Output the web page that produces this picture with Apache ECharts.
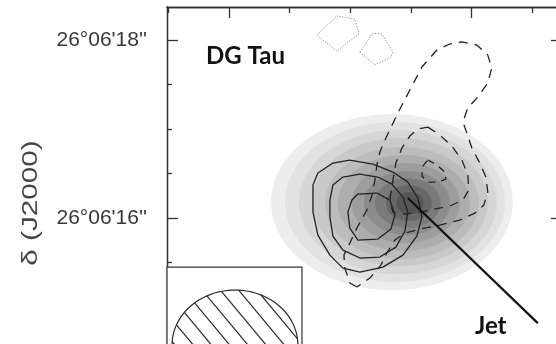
<!DOCTYPE html>
<html><head><meta charset="utf-8">
<script src="https://cdn.jsdelivr.net/npm/echarts@6/dist/echarts.min.js"></script>
<style>html,body{margin:0;padding:0;background:#fff}#c{width:556px;height:344px}</style>
</head><body><div id="c"></div>
<script>
// ---- axes (x: RA offset in arcsec, y: Dec seconds of 26°06') ----
const xRange = [-2.037, 2.35];
const yRange = [13.9, 18.371];
const xTicksMajor = [-1.347, 1.347];
const xTicksMinor = [-2.02, -0.674, 0, 0.674, 2.02];
const yTicksMajor = [14, 16, 18];
const yTicksMinor = [14.5, 15, 15.5, 16.5, 17, 17.5];
const yLabelValues = [16, 18];

// ---- grey-scale filled levels (centre, semi-axes in arcsec) ----
const grayCx = [0.461,0.494,0.527,0.549,0.572,0.594,0.616,0.627,0.638,0.649,0.660];
const grayCy = [16.180,16.180,16.180,16.180,16.169,16.169,16.169,16.169,16.169,16.169,16.169];
const grayRx = [1.343,1.221,1.099,0.977,0.855,0.733,0.599,0.477,0.366,0.255,0.150];
const grayRy = [0.989,0.899,0.809,0.719,0.629,0.539,0.449,0.360,0.280,0.200,0.125];
const grayTone = ['#ededed','#e2e2e2','#d6d6d6','#c9c9c9','#bcbcbc','#adadad','#9d9d9d','#8c8c8c','#7a7a7a','#676767','#555555'];

// ---- solid contours ----
const solidOuter = [[-0.416,16.371],[-0.361,16.506],[-0.194,16.618],[-0.006,16.652],[0.250,16.607],[0.472,16.517],[0.638,16.404],[0.749,16.225],[0.794,16.011],[0.738,15.798],[0.583,15.584],[0.361,15.449],[0.105,15.393],[-0.083,15.438],[-0.228,15.584],[-0.361,15.809],[-0.416,16.067],[-0.416,16.371]];
const solidMiddle = [[-0.228,16.202],[-0.194,16.371],[-0.083,16.461],[0.105,16.494],[0.305,16.461],[0.461,16.382],[0.583,16.236],[0.638,16.067],[0.605,15.854],[0.505,15.674],[0.327,15.562],[0.105,15.551],[-0.083,15.640],[-0.194,15.798],[-0.228,16.011],[-0.228,16.202]];
const solidInner = [[-0.028,16.067],[0.017,16.202],[0.083,16.270],[0.294,16.281],[0.438,16.202],[0.494,16.034],[0.450,15.876],[0.305,15.764],[0.083,15.753],[-0.006,15.888],[-0.028,16.067]];

// ---- dashed contours ----
const dashedOuter = [[0.072,15.225],[-0.006,15.270],[-0.061,15.438],[-0.072,15.584],[-0.006,15.719],[0.072,15.888],[0.183,16.090],[0.239,16.258],[0.272,16.427],[0.294,16.596],[0.327,16.742],[0.394,16.899],[0.527,17.180],[0.660,17.438],[0.794,17.697],[0.960,17.888],[1.104,17.955],[1.238,17.978],[1.404,17.944],[1.526,17.831],[1.570,17.685],[1.526,17.517],[1.415,17.360],[1.304,17.236],[1.249,17.079],[1.293,16.955],[1.349,16.787],[1.437,16.618],[1.504,16.461],[1.526,16.292],[1.482,16.146],[1.382,16.056],[1.215,15.978],[0.993,15.921],[0.771,15.876],[0.605,15.831],[0.494,15.753],[0.405,15.607],[0.339,15.472],[0.216,15.326],[0.072,15.225]];
const dashedMiddle = [[0.860,17.022],[0.993,16.933],[1.127,16.809],[1.238,16.652],[1.304,16.483],[1.315,16.315],[1.249,16.202],[1.104,16.135],[0.938,16.101],[0.771,16.067],[0.605,16.045],[0.472,16.067],[0.438,16.202],[0.472,16.427],[0.505,16.618],[0.572,16.787],[0.660,16.921],[0.749,17.000],[0.860,17.022]];
const dashedInner = [[0.860,16.652],[0.960,16.596],[1.049,16.517],[1.060,16.438],[0.971,16.404],[0.860,16.404],[0.794,16.472],[0.805,16.584],[0.860,16.652]];

// ---- dotted (negative) contours ----
const dottedA = [[-0.150,18.270],[0.050,18.236],[0.094,18.067],[-0.150,17.876],[-0.372,18.056],[-0.150,18.270]];
const dottedB = [[0.105,17.865],[0.250,18.079],[0.350,18.067],[0.472,17.865],[0.450,17.809],[0.272,17.719],[0.105,17.865]];

// ---- jet direction ----
const jetLine = [[0.638,16.225],[2.081,14.820]];

// ---- beam (centre, semi-axes) and inset box ----
const beam = [-1.282, 14.573, 0.699, 0.618];
const beamBox = [-2.037, -0.538, 15.449, 13.9]; // left, right, top, bottom

const chart = echarts.init(document.getElementById('c'), null, {renderer:'canvas'});
const AX = '#333';
function ellipseRender(params, api){
  const cx = api.value(0), cy = api.value(1), rx = api.value(2), ry = api.value(3);
  const pts = [];
  for (let k = 0; k < 96; k++) {
    const a = k / 96 * Math.PI * 2;
    pts.push(api.coord([cx + rx*Math.cos(a), cy + ry*Math.sin(a)]));
  }
  return {type:'polygon', shape:{points:pts}, style:{fill: grayTone[params.dataIndex], stroke:null}};
}
function beamRender(params, api){
  const c = api.coord([api.value(0), api.value(1)]);
  const sz = api.size([api.value(2), api.value(3)]);
  const rx = sz[0], ry = sz[1];
  const tl = api.coord([api.value(4), api.value(6)]);
  const br = api.coord([api.value(5), api.value(7)]);
  const children = [];
  children.push({type:'rect', shape:{x:tl[0], y:tl[1], width:br[0]-tl[0], height:br[1]-tl[1]},
    style:{fill:'#fff', stroke:AX, lineWidth:1.2}});
  const pts = [];
  for (let k = 0; k < 120; k++) { const a = k/120*Math.PI*2; pts.push([c[0]+rx*Math.cos(a), c[1]+ry*Math.sin(a)]); }
  children.push({type:'polygon', shape:{points:pts}, style:{fill:'#fff', stroke:'#2a2a2a', lineWidth:1.2}});
  let dx = 1, dy = 1.2; const L = Math.hypot(dx,dy); dx/=L; dy/=L;
  const nx = -dy, ny = dx;
  const A = (dx/rx)*(dx/rx) + (dy/ry)*(dy/ry);
  for (let s = -7; s <= 7; s++) {
    const off = s*14 + 4;
    const ox = off*nx, oy = off*ny;
    const B = 2*(ox*dx/(rx*rx) + oy*dy/(ry*ry));
    const C = (ox/rx)*(ox/rx) + (oy/ry)*(oy/ry) - 1;
    const disc = B*B - 4*A*C;
    if (disc <= 0) continue;
    const t1 = (-B - Math.sqrt(disc))/(2*A), t2 = (-B + Math.sqrt(disc))/(2*A);
    children.push({type:'line', shape:{x1:c[0]+ox+t1*dx, y1:c[1]+oy+t1*dy, x2:c[0]+ox+t2*dx, y2:c[1]+oy+t2*dy},
      style:{stroke:'#2a2a2a', lineWidth:1.2}});
  }
  return {type:'group', children};
}
function lineSeries(data, type, color, width){
  return {type:'line', data, symbol:'none', showSymbol:false, silent:true, z:3,
    lineStyle:{color, width, type}, xAxisIndex:0, yAxisIndex:0};
}
const grayData = grayCx.map((v,i)=>[v, grayCy[i], grayRx[i], grayRy[i]]);

const xBase = {type:'value', min:xRange[0], max:xRange[1], position:'top', axisLabel:{show:false}, splitLine:{show:false},
  axisLine:{onZero:false, lineStyle:{color:AX, width:1.3}}};
const yBase = {type:'value', min:yRange[0], max:yRange[1], splitLine:{show:false},
  axisLine:{onZero:false, lineStyle:{color:AX, width:1.3}}};

chart.setOption({
  animation:false,
  backgroundColor:'#fff',
  grid:{left:167, top:7, width:395, height:398, containLabel:false, outerBoundsMode:'none'},
  xAxis:[
    Object.assign({}, xBase, {axisTick:{inside:true, length:11, customValues:xTicksMajor, lineStyle:{color:AX, width:1.3}}}),
    Object.assign({}, xBase, {axisTick:{inside:true, length:6, customValues:xTicksMinor, lineStyle:{color:AX, width:1.3}}})
  ],
  yAxis:[
    Object.assign({}, yBase, {position:'left',
      axisTick:{inside:true, length:11, customValues:yTicksMajor, lineStyle:{color:AX, width:1.3}},
      axisLabel:{customValues:yLabelValues, margin:20, color:'#383838', fontSize:21, fontFamily:'Liberation Sans',
        formatter:v=>"26°06'" + v + "''"}}),
    Object.assign({}, yBase, {position:'left', axisLabel:{show:false},
      axisTick:{inside:true, length:5, customValues:yTicksMinor, lineStyle:{color:AX, width:1.3}}}),
    Object.assign({}, yBase, {position:'right', axisLabel:{show:false},
      axisTick:{inside:true, length:11, customValues:yTicksMajor, lineStyle:{color:AX, width:1.3}}})
  ],
  series:[
    {type:'custom', renderItem:ellipseRender, data:grayData, silent:true, z:2, xAxisIndex:0, yAxisIndex:0},
    lineSeries(solidOuter, 'solid', '#222', 1.3),
    lineSeries(solidMiddle, 'solid', '#222', 1.3),
    lineSeries(solidInner, 'solid', '#222', 1.3),
    lineSeries(dashedOuter, [9,7], '#222', 1.3),
    lineSeries(dashedMiddle, [9,7], '#222', 1.3),
    lineSeries(dashedInner, [7,6], '#222', 1.3),
    lineSeries(dottedA, [1.2,1.6], '#8a8a8a', 1),
    lineSeries(dottedB, [1.2,1.6], '#8a8a8a', 1),
    lineSeries(jetLine, 'solid', '#111', 2.2),
    {type:'custom', renderItem:beamRender, data:[beam.concat(beamBox)], silent:true, z:4, xAxisIndex:0, yAxisIndex:0}
  ],
  graphic:[
    {type:'text', x:206, y:56, z:10, style:{text:'DG Tau', font:'bold 24px Lato', fill:'#111', verticalAlign:'middle'}},
    {type:'text', x:475, y:326, z:10, style:{text:'Jet', font:'bold 24px Lato', fill:'#111', verticalAlign:'middle'}},
    {type:'text', x:31, y:203, rotation:Math.PI/2, scaleX:1.35, z:10,
      style:{text:'δ (J2000)', font:'22px "Liberation Sans"', fill:'#444', align:'center', verticalAlign:'middle'}}
  ]
});
</script></body></html>
